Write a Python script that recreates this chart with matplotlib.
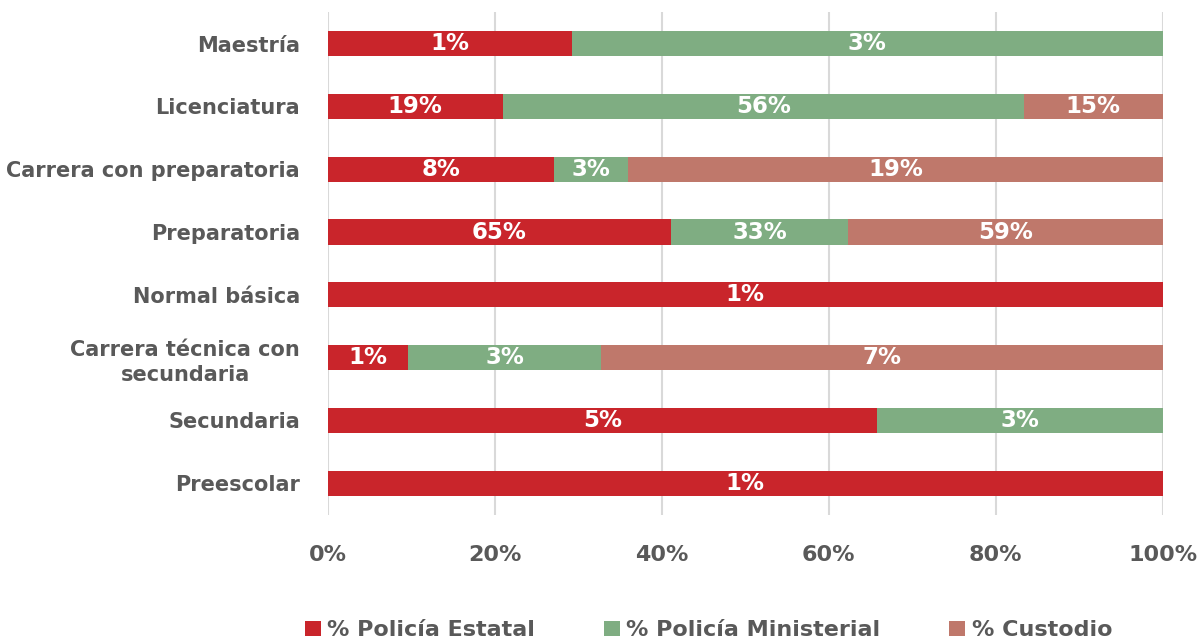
import numpy as np
import matplotlib.pyplot as plt

# niveles de estudio (de abajo hacia arriba)
niveles = ['Preescolar', 'Secundaria', 'Carrera técnica con\nsecundaria', 'Normal básica',
           'Preparatoria', 'Carrera con preparatoria', 'Licenciatura', 'Maestría']
series = ['% Policía Estatal', '% Policía Ministerial', '% Custodio']

estatal = [1.0, 5.2, 1.04, 1.0, 64.6, 8.2, 18.9, 1.2]
ministerial = [0.0, 2.7, 2.52, 0.0, 33.4, 2.7, 56.4, 2.9]
custodio = [0.0, 0.0, 7.3, 0.0, 59.2, 19.4, 15.0, 0.0]

colores = ['#C9252B', '#7FAD82', '#BF786B']
gris = '#595959'

plt.rcParams['font.family'] = ['DejaVu Sans']
plt.rcParams['font.weight'] = 'bold'

datos = np.array([estatal, ministerial, custodio])
totales = datos.sum(axis=0)
frac = datos / totales

fig = plt.figure(figsize=(12.01, 6.41), dpi=100)
ax = fig.add_axes([0.273, 0.197, 0.695, 0.784])

y = np.arange(len(niveles))
izq = np.zeros(len(niveles))
for k in range(3):
    ax.barh(y, frac[k], left=izq, height=0.4, color=colores[k], label=series[k], zorder=3)
    for i in range(len(niveles)):
        if datos[k][i] > 0:
            ax.text(izq[i] + frac[k][i] / 2, y[i], '%d%%' % int(datos[k][i] + 0.5),
                    ha='center', va='center', color='white', fontsize=16.5,
                    fontweight='bold', zorder=4)
    izq += frac[k]

ax.set_xlim(0, 1)
ax.set_ylim(-0.5, len(niveles) - 0.5)
ax.set_xticks(np.linspace(0, 1, 6))
ax.set_xticklabels(['0%', '20%', '40%', '60%', '80%', '100%'])
ax.set_yticks(y)
ax.set_yticklabels(niveles, multialignment='center', linespacing=1.35)
ax.tick_params(axis='x', length=0, pad=22, labelsize=16, labelcolor=gris)
ax.tick_params(axis='y', length=0, pad=20, labelsize=15, labelcolor=gris)
ax.grid(axis='x', color='#D9D9D9', linewidth=1.5, zorder=0)
for s in ax.spines.values():
    s.set_visible(False)

leg = fig.legend(loc='lower center', bbox_to_anchor=(0.59, -0.03), ncol=3, frameon=False,
                 fontsize=16, handlelength=0.7, handleheight=0.7, handletextpad=0.3,
                 columnspacing=3.1)
for t in leg.get_texts():
    t.set_color(gris)

fig.savefig('out.png', dpi=100)
